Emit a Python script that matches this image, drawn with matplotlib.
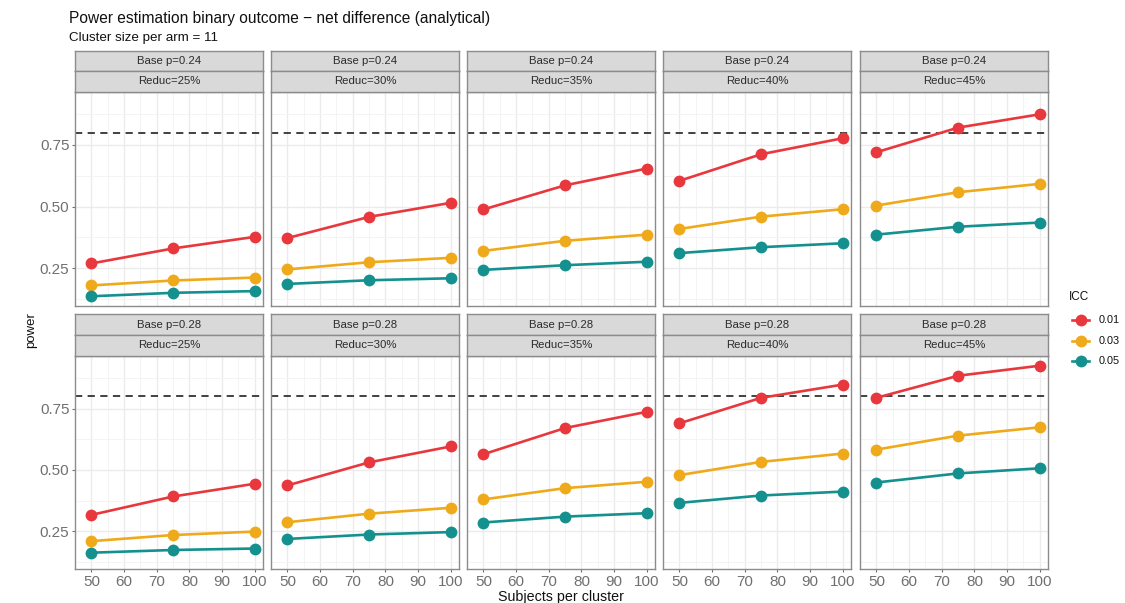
import matplotlib.pyplot as plt
from matplotlib.lines import Line2D
import numpy as np

plt.rcParams['font.family'] = ['Liberation Sans', 'DejaVu Sans']

# ----- data -----
subjects = [50, 75, 100]
base_p = ["0.24", "0.28"]
reduc = ["25%", "30%", "35%", "40%", "45%"]
icc_levels = ["0.01", "0.03", "0.05"]
target_power = 0.8

# power[row=base p][col=reduction][subjects]
power_icc_001 = [
    [[0.269, 0.330, 0.377], [0.372, 0.458, 0.515], [0.488, 0.586, 0.654],
     [0.604, 0.712, 0.777], [0.720, 0.820, 0.874]],
    [[0.317, 0.392, 0.444], [0.437, 0.531, 0.596], [0.564, 0.671, 0.737],
     [0.690, 0.794, 0.848], [0.794, 0.884, 0.925]],
]
power_icc_003 = [
    [[0.180, 0.200, 0.212], [0.245, 0.274, 0.292], [0.320, 0.361, 0.386],
     [0.409, 0.459, 0.489], [0.504, 0.558, 0.592]],
    [[0.210, 0.235, 0.249], [0.287, 0.322, 0.346], [0.380, 0.426, 0.452],
     [0.479, 0.533, 0.567], [0.583, 0.640, 0.674]],
]
power_icc_005 = [
    [[0.136, 0.150, 0.157], [0.186, 0.201, 0.209], [0.243, 0.262, 0.276],
     [0.311, 0.335, 0.351], [0.386, 0.418, 0.435]],
    [[0.163, 0.174, 0.180], [0.219, 0.237, 0.247], [0.286, 0.310, 0.324],
     [0.366, 0.396, 0.412], [0.449, 0.486, 0.507]],
]
series = [power_icc_001, power_icc_003, power_icc_005]
colors = ["#E8383D", "#EFAA1B", "#14918E"]

# ----- layout (pixels) -----
W, H = 1125, 603
fig = plt.figure(figsize=(W / 100, H / 100), dpi=100)


def px_axes(x0, y0, x1, y1):
    return fig.add_axes([x0 / W, 1 - y1 / H, (x1 - x0) / W, (y1 - y0) / H])


col_left = [75, 271, 467, 663, 860]
panel_w = 188
strip_top = [51, 314]
strip_mid = [71, 335]
panel_top = [92, 356]
panel_bot = [306, 569]

border = "#8C8C8C"
tick_col = "#707070"

all_vals = np.concatenate([np.ravel(s) for s in series] + [[target_power]])
lo, hi = all_vals.min(), all_vals.max()
pad = (hi - lo) * 0.05
ylim = (lo - pad, hi + pad)
xlim = (47.5, 102.5)

for r in range(2):
    for c in range(5):
        x0 = col_left[c]
        x1 = x0 + panel_w
        ax = px_axes(x0, panel_top[r], x1, panel_bot[r])
        ax.set_xlim(*xlim)
        ax.set_ylim(*ylim)
        ax.set_xticks([50, 60, 70, 80, 90, 100])
        ax.set_xticks([45, 55, 65, 75, 85, 95], minor=True)
        ax.set_yticks([0.25, 0.50, 0.75])
        ax.set_yticks([0.125, 0.375, 0.625, 0.875], minor=True)
        ax.grid(True, which='major', color='#EBEBEB', lw=1.0)
        ax.grid(True, which='minor', color='#F3F3F3', lw=0.6)
        ax.set_axisbelow(True)
        for sp in ax.spines.values():
            sp.set_color(border)
            sp.set_linewidth(1.0)

        ax.axhline(target_power, color='#333333', lw=1.3, ls=(0, (4, 3)))
        for s, col in zip(series, colors):
            ax.plot(subjects, s[r][c], color=col, lw=1.9, marker='o',
                    markersize=8.5, markeredgewidth=0, solid_capstyle='round')

        ax.tick_params(which='minor', length=0)
        ax.tick_params(which='major', length=2.5, color=tick_col,
                       labelcolor=tick_col, labelsize=11, pad=1.5)
        if c == 0:
            ax.set_yticklabels(["0.25", "0.50", "0.75"])
        else:
            ax.tick_params(axis='y', length=0, labelleft=False)
        if r == 1:
            ax.set_xticklabels(["50", "60", "70", "80", "90", "100"])
        else:
            ax.tick_params(axis='x', length=0, labelbottom=False)

        # two-level strip labels
        for (sy0, sy1, label) in [(strip_top[r], strip_mid[r], f"Base p={base_p[r]}"),
                                  (strip_mid[r], panel_top[r], f"Reduc={reduc[c]}")]:
            sax = px_axes(x0, sy0, x1, sy1)
            sax.set_facecolor('#D9D9D9')
            sax.set_xticks([])
            sax.set_yticks([])
            for sp in sax.spines.values():
                sp.set_color(border)
                sp.set_linewidth(1.0)
            sax.text(0.5, 0.5, label, ha='center', va='center', fontsize=8.2,
                     color='#2B2B2B', transform=sax.transAxes)

# ----- titles -----
fig.text(69 / W, 1 - 19 / H, "Power estimation binary outcome \u2212 net difference (analytical)",
         fontsize=11.2, color='#111111', va='center', ha='left')
fig.text(69 / W, 1 - 38 / H, "Cluster size per arm = 11",
         fontsize=9.6, color='#111111', va='center', ha='left')
fig.text(31 / W, 1 - 330 / H, "power", rotation=90, fontsize=9.5,
         color='#111111', va='center', ha='center')
fig.text(561 / W, 1 - 597 / H, "Subjects per cluster", fontsize=10.3,
         color='#111111', va='center', ha='center')

# ----- legend -----
fig.text(1069 / W, 1 - 297 / H, "ICC", fontsize=8.5, color='#111111',
         va='center', ha='left')
for i, (lab, col) in enumerate(zip(icc_levels, colors)):
    yy = 1 - (320 + i * 20.5) / H
    fig.add_artist(Line2D([1072 / W, 1089 / W], [yy, yy], color=col, lw=1.9,
                          transform=fig.transFigure))
    fig.add_artist(Line2D([1080.5 / W], [yy], color=col, marker='o', markersize=8.5,
                          markeredgewidth=0, transform=fig.transFigure))
    fig.text(1099 / W, yy, lab, fontsize=7.8, color='#111111', va='center', ha='left')

fig.savefig("out.png", dpi=100)
